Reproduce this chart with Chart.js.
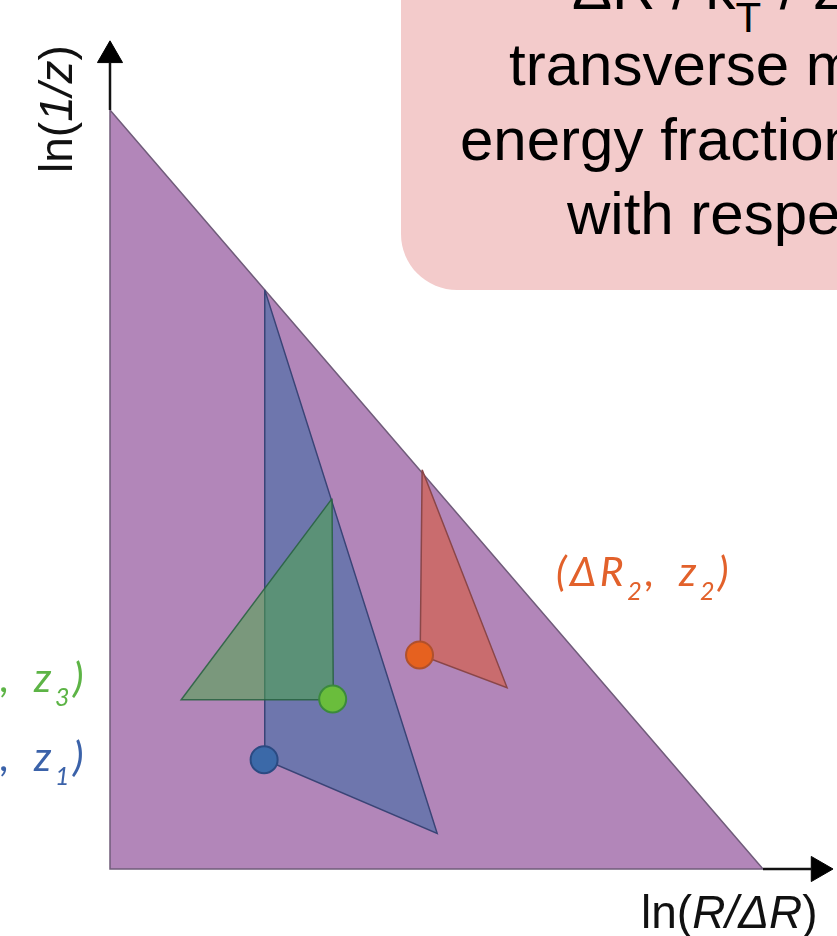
<!DOCTYPE html>
<html lang="en">

<head>
  <meta charset="UTF-8">
  <title>Lund plane</title>
  <script src="https://cdn.jsdelivr.net/npm/chart.js@4.4.1/dist/chart.umd.min.js"></script>
  <style>
    body { margin: 0; background: #fff; }
    #wrap { position: relative; width: 837px; height: 936px; overflow: hidden; }
    #plane { position: absolute; left: 0; top: 0; }
    .box {
      position: absolute; left: 401px; top: -100px; width: 700px; height: 390px;
      background: #f3cbcb; border-radius: 56px;
    }
    .txt {
      position: absolute; white-space: nowrap; color: #000;
      font-family: "Liberation Sans", Arial, sans-serif; font-size: 60px; line-height: 1;
    }
    .axis {
      position: absolute; white-space: nowrap; color: #111;
      font-family: "Liberation Sans", Arial, sans-serif; font-size: 46px; line-height: 1;
    }
    .lab {
      position: absolute; white-space: nowrap;
      font-family: Lato, "Open Sans", sans-serif; font-style: italic; font-size: 41px; line-height: 1;
      letter-spacing: 3.5px; word-spacing: 8px;
    }
    .lab span, .txt span { position: relative; }
    .lab span { font-size: 25px; top: 14px; }
  </style>
</head>

<body>
  <div id="wrap">
    <canvas id="plane" width="837" height="936"></canvas>

    <!-- Kasse med forklaring -->
    <div class="box"></div>
    <div class="txt" style="left:572px; top:-41px">ΔR / k<span style="font-size:42px; top:23px; margin-right:2px">T</span> / z:</div>
    <div class="txt" style="left:509px; top:35px">transverse momentum /</div>
    <div class="txt" style="left:460px; top:110px">energy fraction of emission</div>
    <div class="txt" style="left:567px; top:184px">with respect to the jet</div>

    <!-- Akse-titler -->
    <div class="axis" style="left:641px; top:889px">ln(<i>R/ΔR</i>)</div>
    <div class="axis" style="left:33px; top:173px; transform-origin:0 0; transform:rotate(-90deg)">ln(<i>1/z</i>)</div>

    <!-- Labels for emissioner -->
    <div class="lab" style="left:556px; top:550px; color:#e2612b">(ΔR<span>2</span>, z<span>2</span>)</div>
    <div class="lab" style="left:-313px; width:400px; text-align:right; top:656px; color:#5db446">(ΔR<span>3</span>, z<span>3</span>)</div>
    <div class="lab" style="left:-313px; width:400px; text-align:right; top:735px; color:#3b62a9">(ΔR<span>1</span>, z<span>1</span>)</div>
  </div>

  <script>
    // Hjørner i (ln(R/ΔR), ln(1/z))
    const primaryPlane = [[0, 10], [0, 0], [10, 0]];
    const emission1 = [[2.37, 7.63], [2.37, 1.44], [5.01, 0.47]];
    const emission2 = [[4.78, 5.26], [4.75, 2.82], [6.08, 2.39]];
    const emission3 = [[3.40, 4.88], [1.09, 2.23], [3.42, 2.23]];

    // Splitpunkter
    const split1 = [2.36, 1.44];
    const split2 = [4.74, 2.82];
    const split3 = [3.41, 2.24];

    // Akser: start, pilspids
    const yAxisLine = [[0, 10], [0, 10.62]];
    const xAxisLine = [[10, 0], [10.75, 0]];
    const yArrow = [0, 10.72];
    const xArrow = [10.85, 0];

    const pts = arr => arr.map(p => ({ x: p[0], y: p[1] }));
    const closed = arr => pts(arr.concat([arr[0]]));

    function polygon(corners, fillColor, lineColor, order) {
      return {
        data: closed(corners),
        showLine: true,
        fill: 'shape',
        backgroundColor: fillColor,
        borderColor: lineColor,
        borderWidth: 1.5,
        tension: 0,
        pointRadius: 0,
        order: order
      };
    }

    function dot(p, fillColor, lineColor) {
      return {
        data: pts([p]),
        pointRadius: 13.5,
        pointBackgroundColor: fillColor,
        pointBorderColor: lineColor,
        pointBorderWidth: 2,
        order: 2
      };
    }

    function axisLine(line) {
      return {
        data: pts(line),
        showLine: true,
        borderColor: '#111',
        borderWidth: 2.5,
        pointRadius: 0,
        order: 1
      };
    }

    function arrow(p, rot) {
      return {
        data: pts([p]),
        pointStyle: 'triangle',
        rotation: rot,
        pointRadius: 14.5,
        pointBackgroundColor: '#000',
        pointBorderColor: '#000',
        pointBorderWidth: 1,
        order: 1
      };
    }

    const ctx = document.getElementById('plane').getContext('2d');

    new Chart(ctx, {
      type: 'scatter',
      data: {
        datasets: [
          polygon(primaryPlane, 'rgb(178,134,185)', 'rgb(112,92,122)', 10),
          polygon(emission1, 'rgb(110,118,173)', 'rgb(58,68,118)', 8),
          polygon(emission3, 'rgba(76,167,75,0.55)', 'rgba(38,96,62,0.85)', 6),
          polygon(emission2, 'rgb(201,108,110)', 'rgb(138,70,72)', 6),
          dot(split1, '#3b69a8', '#2b4a82'),
          dot(split2, '#e6611f', '#b0502c'),
          dot(split3, '#6abd3c', '#3b8a3c'),
          axisLine(yAxisLine),
          axisLine(xAxisLine),
          arrow(yArrow, 0),
          arrow(xArrow, 90)
        ]
      },
      options: {
        responsive: false,
        animation: false,
        events: [],
        layout: { padding: 0, autoPadding: false },
        plugins: { legend: { display: false }, tooltip: { enabled: false } },
        scales: {
          x: { type: 'linear', min: -1.6845, max: 11.133, display: false },
          y: { type: 'linear', min: -0.8827, max: 11.449, display: false }
        }
      }
    });
  </script>

</body>
</html>
